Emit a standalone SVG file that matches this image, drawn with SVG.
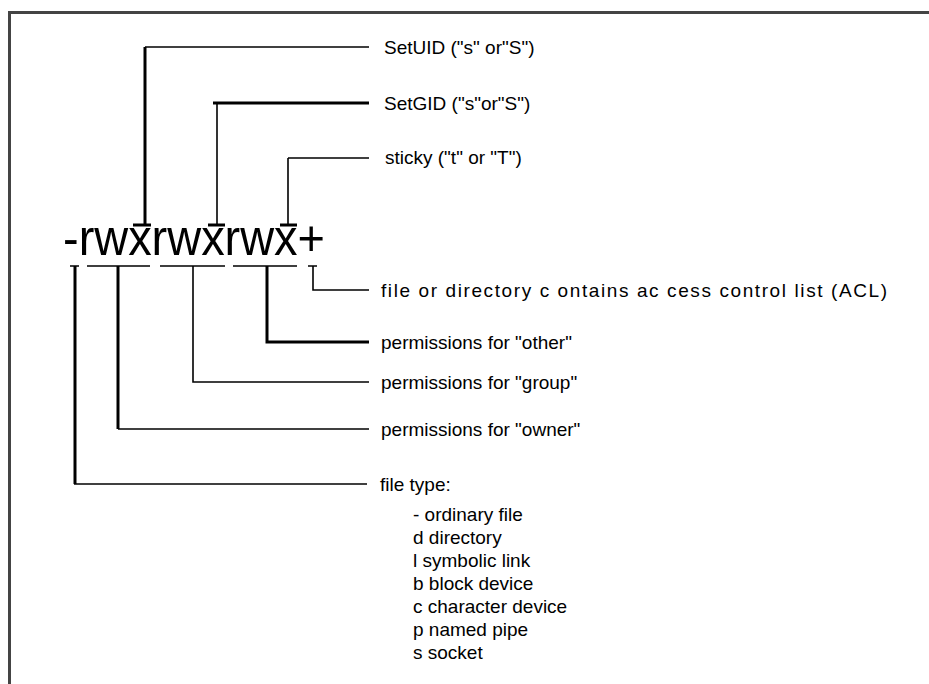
<svg xmlns="http://www.w3.org/2000/svg" width="929" height="684" viewBox="0 0 929 684">
  <style>
    .lbl { font-family: "Liberation Sans", Arial, sans-serif; font-size: 19px; fill: #000; }
    .big { font-family: "Liberation Sans", Arial, sans-serif; font-size: 50px; fill: #000; }
    .thin { stroke: #000; stroke-width: 1.6; fill: none; }
    .thick { stroke: #000; stroke-width: 3; fill: none; }
  </style>
  <rect width="929" height="684" fill="#fff"/>
  <path d="M9.5,684 V12.5 H929" fill="none" stroke="#444" stroke-width="3"/>

  <g id="perm-string">
    <text class="big" x="63" y="255" textLength="262" lengthAdjust="spacingAndGlyphs">-rwxrwxrwx+</text>
  </g>

  <g id="connectors">
    <!-- SetUID -->
    <path class="thick" d="M145,47 V225"/>
    <path class="thin" d="M145,47 H369"/>
    <path class="thick" d="M133,225 H151"/>
    <!-- SetGID -->
    <path class="thin" d="M217,103 V225"/>
    <path class="thick" d="M213,103 H369"/>
    <path class="thick" d="M208,225 H225"/>
    <!-- sticky -->
    <path class="thin" d="M288,158 V225 M288,158 H369"/>
    <path class="thick" d="M280,225 H297"/>
    <!-- bottom brackets -->
    <path class="thin" d="M70,266 H79 M87,266 H150 M160,266 H225 M233,266 H297 M308,266 H317"/>
    <!-- ACL -->
    <path class="thin" d="M313,266 V290 H369"/>
    <!-- other -->
    <path class="thick" d="M267,266 V342 H369"/>
    <!-- group -->
    <path class="thin" d="M193,266 V382 H369"/>
    <!-- owner -->
    <path class="thick" d="M118,266 V429"/>
    <path class="thin" d="M118,429 H369"/>
    <!-- file type -->
    <path class="thick" d="M75,266 V484"/>
    <path class="thin" d="M74,484 H367"/>
  </g>

  <g id="setuid"><text class="lbl" x="384" y="54">SetUID ("s" or"S")</text></g>
  <g id="setgid"><text class="lbl" x="384" y="110">SetGID ("s"or"S")</text></g>
  <g id="sticky"><text class="lbl" x="385" y="164">sticky ("t" or "T")</text></g>
  <g id="acl"><text class="lbl" x="381" y="297" textLength="506" lengthAdjust="spacing">file or directory c ontains ac cess control list (ACL)</text></g>
  <g id="other"><text class="lbl" x="381" y="349">permissions for "other"</text></g>
  <g id="group"><text class="lbl" x="381" y="389">permissions for "group"</text></g>
  <g id="owner"><text class="lbl" x="381" y="436">permissions for "owner"</text></g>
  <g id="filetype">
    <text class="lbl" x="380" y="491">file type:</text>
    <text class="lbl" x="413" y="521">- ordinary file</text>
    <text class="lbl" x="413" y="544">d directory</text>
    <text class="lbl" x="413" y="567">l symbolic link</text>
    <text class="lbl" x="413" y="590">b block device</text>
    <text class="lbl" x="413" y="613">c character device</text>
    <text class="lbl" x="413" y="636">p named pipe</text>
    <text class="lbl" x="413" y="659">s socket</text>
  </g>
</svg>
